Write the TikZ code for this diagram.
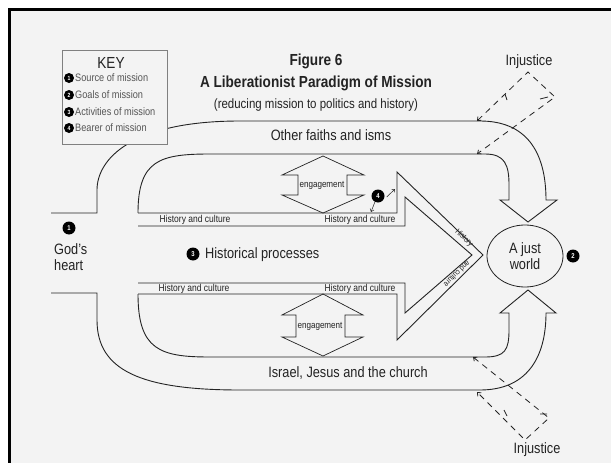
\documentclass[tikz,border=0pt]{standalone}
\usepackage{fontspec}
\setmainfont{Liberation Sans}[FakeStretch=0.85]
\usetikzlibrary{arrows.meta,shapes.geometric}
\definecolor{bg}{RGB}{243,243,243}
\definecolor{ink}{RGB}{35,35,35}
\definecolor{keyink}{RGB}{85,85,85}
\begin{document}
\begin{tikzpicture}[x=1pt,y=-1pt,
  band/.style={draw=ink, line width=0.9pt, line join=miter},
  lbl/.style={text=ink, inner sep=0pt, font=\fontsize{15}{16}\selectfont},
  small/.style={text=ink, inner sep=0pt, font=\fontsize{10}{11}\selectfont},
  tiny/.style={text=ink, inner sep=0pt, font=\fontsize{9.5}{10}\selectfont},
  diag/.style={text=ink, inner sep=0pt, font=\fontsize{8}{8}\selectfont},
  mk/.style={circle, fill=black, inner sep=0pt, minimum size=13pt, text=white, font=\fontsize{7}{7}\selectfont\bfseries},
  kmk/.style={circle, fill=black, inner sep=0pt, minimum size=10pt, text=white, font=\fontsize{6}{6}\selectfont\bfseries},
  kitem/.style={anchor=west, text=keyink, inner sep=0pt, font=\fontsize{10.8}{11}\selectfont},
  injline/.style={draw=ink, line width=0.8pt, dash pattern=on 6pt off 5pt},
  injtip/.style={{Straight Barb[length=3pt,width=5pt]}-{Straight Barb[length=3pt,width=5pt]}},
  engage/.style={draw=ink, line width=0.7pt, line join=miter}
]
\useasboundingbox (0,0) rectangle (611,463);
\fill[white] (0,0) rectangle (611,463);
\fill[bg] (9,9) rectangle (611,463);
\draw[line width=3pt, black] (9,463) -- (9,9) -- (611,9);

% upper mission band with downward arrow
\draw[band] (51,213) -- (97,213) -- (97,190) .. controls (97,160) and (130,121) .. (240,121)
  -- (480,121) .. controls (525,121) and (546,150) .. (546,200) -- (557,200) -- (528,222)
  -- (500,200) -- (509,200) -- (509,185) .. controls (509,165) and (505,154) .. (485,154)
  -- (210,154) .. controls (160,154) and (138,160) .. (138,213);
% lower mission band with upward arrow
\draw[band] (51,293) -- (97,293) -- (97,320) .. controls (97,370) and (140,390) .. (240,390)
  -- (480,390) .. controls (525,390) and (546,360) .. (546,313) -- (556,313) -- (528,290)
  -- (500,313) -- (509,313) -- (509,330) .. controls (509,350) and (505,357) .. (485,357)
  -- (210,357) .. controls (160,357) and (138,350) .. (138,294);
% big hollow arrow (history and culture)
\draw[band] (138,213) -- (397,213) -- (397,172) -- (483,255) -- (397,340) -- (397,294) -- (138,294);
\draw[band] (138,226) -- (405,226) -- (405,197) -- (472,255) -- (405,313) -- (405,283) -- (138,283);

% engagement double arrows
\draw[engage] (323,156) -- (364,175) -- (347,175) -- (347,195) -- (364,195) -- (323,213)
  -- (282,195) -- (298,195) -- (298,175) -- (282,175) -- cycle;
\draw[engage] (323,294) -- (363,315) -- (345,315) -- (345,337) -- (363,337) -- (323,356)
  -- (282,337) -- (296,337) -- (296,315) -- (282,315) -- cycle;
\node[tiny] (eng1) at (322,185) {engagement};
\node[tiny] (eng2) at (320,326) {engagement};

% injustice dashed arrows
\coordinate (iu1) at (477,121);
\coordinate (iu2) at (528,72);
\coordinate (iu3) at (555,97);
\coordinate (iu4) at (477,154);
\draw[injline, injtip] (iu1) -- (iu2) -- (iu3) -- (iu4);
\draw[draw=ink, line width=0.8pt] (505,94) -- (507,100) (540,99) -- (548,97);
\coordinate (il1) at (473,357);
\coordinate (il2) at (549,418);
\coordinate (il3) at (525,440);
\coordinate (il4) at (477,392);
\draw[injline, injtip] (il1) -- (il2) -- (il3) -- (il4);
\draw[draw=ink, line width=0.8pt] (504,410) -- (507,416) (540,414) -- (547,414);
\node[lbl] (inj1) at (529,62) {Injustice};
\node[lbl] (inj2) at (537,450) {Injustice};

% key box (covers the outer curve)
\node[draw=gray, fill=bg, line width=0.8pt, minimum width=105pt, minimum height=94pt, inner sep=0pt] (key) at (114.5,97) {};
\node[text=ink, inner sep=0pt, font=\fontsize{16}{16}\selectfont] (keyt) at (111,63) {KEY};
\node[kmk] (k1) at (69,78) {1};
\node[kmk] (k2) at (69,95) {2};
\node[kmk] (k3) at (69,112) {3};
\node[kmk] (k4) at (69,128) {4};
\node[kitem] (k1t) at (75,78) {Source of mission};
\node[kitem] (k2t) at (75,95) {Goals of mission};
\node[kitem] (k3t) at (75,112) {Activities of mission};
\node[kitem] (k4t) at (75,128) {Bearer of mission};

% titles
\node[text=ink, inner sep=0pt, font=\fontsize{16}{16}\selectfont\bfseries] (fig) at (316,61) {Figure 6};
\node[text=ink, inner sep=0pt, font=\fontsize{16}{16}\selectfont\bfseries] (ttl) at (316,83) {A Liberationist Paradigm of Mission};
\node[text=ink, inner sep=0pt, font=\fontsize{13.5}{14}\selectfont] (sub) at (316,105) {(reducing mission to politics and history)};

% labels
\node[lbl] (faiths) at (331,135) {Other faiths and isms};
\node[lbl] (israel) at (348,373) {Israel, Jesus and the church};
\node[small] (hc1) at (195,220) {History and culture};
\node[small] (hc2) at (360,220) {History and culture};
\node[small] (hc3) at (194,289) {History and culture};
\node[small] (hc4) at (360,289) {History and culture};
\node[diag, rotate=-44] (hd1) at (464,238) {History};
\node[diag, rotate=-135] (hd2) at (457,274) {and culture};

\node[mk] (m1) at (69,228) {1};
\node[lbl, align=left, anchor=north west, font=\fontsize{15}{16}\selectfont] (god) at (54,243) {God's\\heart};
\node[mk] (m3) at (193,254) {3};
\node[lbl, anchor=west] (hist) at (205,255) {Historical processes};
\node[ellipse, draw=ink, line width=0.8pt, minimum width=76pt, minimum height=62pt, inner sep=0pt, align=center, text=ink, font=\fontsize{15}{16}\selectfont] (world) at (525,256) {A just\\world};
\node[mk] (m2) at (573,256) {2};

\node[mk] (m4) at (378,196) {4};
\coordinate (a4a) at (395,189);
\coordinate (a4b) at (371,212);
\draw[draw=ink, line width=0.5pt, -{Straight Barb[length=2.5pt,width=4pt]}] ([shift={(2pt,-1pt)}]m4.east) -- (a4a);
\draw[draw=ink, line width=0.5pt, -{Straight Barb[length=2.5pt,width=4pt]}] ([shift={(-3pt,1pt)}]m4.south) -- (a4b);
\end{tikzpicture}
\end{document}
